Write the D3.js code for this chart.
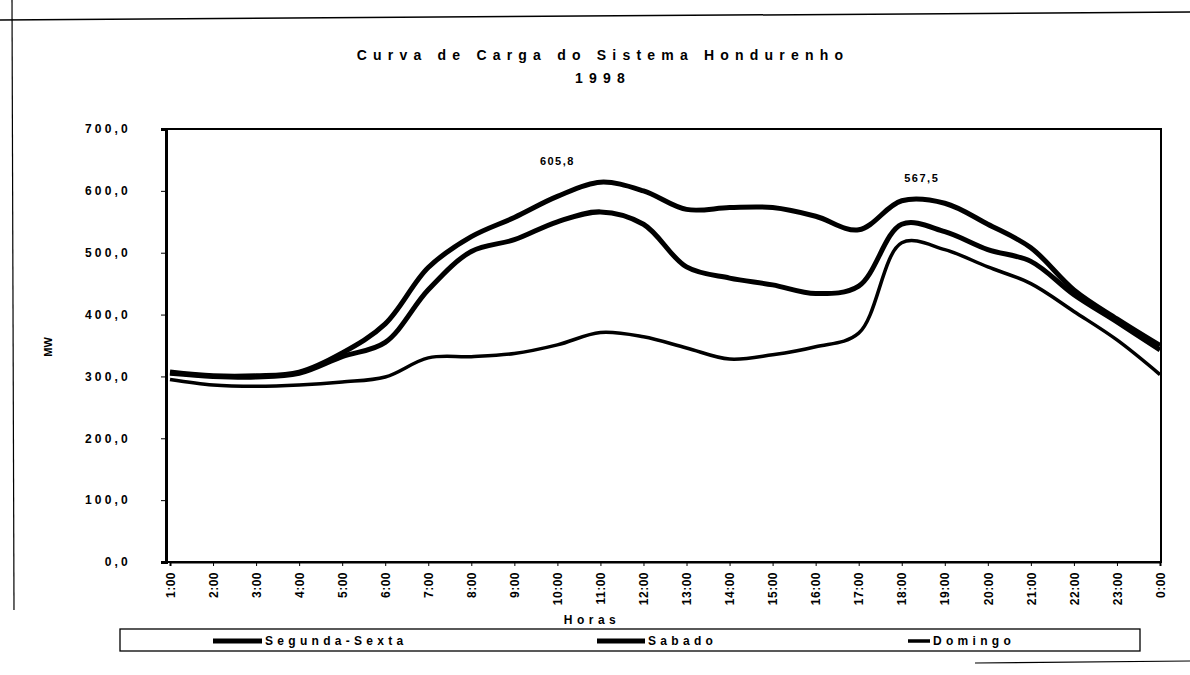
<!DOCTYPE html>
<html>
<head>
<meta charset="utf-8">
<script src="https://cdn.jsdelivr.net/npm/d3@7"></script>
<style>
  body { margin: 0; background: #fff; }
  text { font-family: "Liberation Sans", Arial, sans-serif; fill: #000; }
</style>
</head>
<body>
<div id="canvas"></div>
<script>
"use strict"

/* Data: hourly load (MW) */
let hours = ["1:00", "2:00", "3:00", "4:00", "5:00", "6:00", "7:00", "8:00", "9:00", "10:00",
    "11:00", "12:00", "13:00", "14:00", "15:00", "16:00", "17:00", "18:00", "19:00", "20:00",
    "21:00", "22:00", "23:00", "0:00"];
let segundaSexta = [307, 301, 301, 307, 338, 385, 476, 526, 557, 591,
    614, 600, 570, 573, 573, 559, 537, 584, 580, 546,
    508, 440, 393, 350];
let sabado = [305, 300, 299, 305, 332, 355, 440, 502, 521, 550,
    566, 546, 477, 459, 448, 434, 446, 546, 534, 505,
    486, 432, 388, 343];
let domingo = [295, 286, 284, 286, 291, 299, 330, 332, 337, 351,
    371, 364, 346, 328, 335, 348, 370, 516, 505, 477,
    450, 405, 359, 303];
let yTicks = [0, 100, 200, 300, 400, 500, 600, 700];
let peakLabels = [{ hour: "10:00", text: "605,8" }, { hour: "18:00", text: "567,5" }];

let svgWidth = 1190;
let svgHeight = 675;

let svg = d3.select("#canvas")
    .append("svg")
    .attr("width", svgWidth)
    .attr("height", svgHeight);

svg.append("rect")
    .attr("width", svgWidth)
    .attr("height", svgHeight)
    .attr("fill", "white");

/* scanned page border bits */
svg.append("line")
    .attr("x1", 0).attr("y1", 20).attr("x2", 1190).attr("y2", 12)
    .attr("stroke", "black").attr("stroke-width", 1.5);
svg.append("line")
    .attr("x1", 12).attr("y1", 0).attr("x2", 14).attr("y2", 610)
    .attr("stroke", "black").attr("stroke-width", 1.2);
svg.append("line")
    .attr("x1", 975).attr("y1", 663).attr("x2", 1190).attr("y2", 661)
    .attr("stroke", "black").attr("stroke-width", 1.2);

/* Title */
svg.append("text")
    .attr("x", 603).attr("y", 60)
    .attr("text-anchor", "middle")
    .style("font-size", "14px").style("font-weight", "bold")
    .style("letter-spacing", "6.2px")
    .text("Curva de Carga do Sistema Hondurenho");
svg.append("text")
    .attr("x", 603).attr("y", 83)
    .attr("text-anchor", "middle")
    .style("font-size", "14px").style("font-weight", "bold")
    .style("letter-spacing", "6.2px")
    .text("1998");

/* Scales */
let plotLeft = 166, plotRight = 1161, plotTop = 129, plotBottom = 562;

let xScale = d3.scalePoint()
    .domain(hours)
    .range([170, 1160]);

let yScale = d3.scaleLinear()
    .domain([0, 700])
    .range([plotBottom, plotTop]);

/* plot frame */
svg.append("rect")
    .attr("x", plotLeft).attr("y", plotTop)
    .attr("width", plotRight - plotLeft)
    .attr("height", plotBottom - plotTop)
    .attr("fill", "none")
    .attr("stroke", "black")
    .attr("stroke-width", 2);

/* Y axis */
let yAxis = svg.append("g")
    .attr("transform", "translate(" + plotLeft + ",0)")
    .call(d3.axisLeft(yScale)
        .tickValues(yTicks)
        .tickSize(5)
        .tickFormat(function (d) { return d3.format(".1f")(d).replace(".", ","); }));
yAxis.select(".domain").attr("stroke-width", 3);
yAxis.selectAll("text")
    .attr("x", -35)
    .style("font-size", "12px")
    .style("font-weight", "bold")
    .style("letter-spacing", "3.2px")
    .style("font-family", "Liberation Sans, Arial, sans-serif");

svg.append("text")
    .attr("transform", "translate(52,347) rotate(-90)")
    .attr("text-anchor", "middle")
    .style("font-size", "11px").style("font-weight", "bold")
    .text("MW");

/* X axis */
let xAxis = svg.append("g")
    .attr("transform", "translate(0," + plotBottom + ")")
    .call(d3.axisBottom(xScale).tickSize(4));
xAxis.select(".domain").attr("stroke-width", 2);
xAxis.selectAll("text")
    .attr("transform", "rotate(-90)")
    .attr("x", -10)
    .attr("y", 0)
    .attr("dy", "0.35em")
    .attr("text-anchor", "end")
    .style("font-size", "12px")
    .style("font-weight", "bold")
    .style("letter-spacing", "0.5px")
    .style("font-family", "Liberation Sans, Arial, sans-serif");

svg.append("text")
    .attr("x", 592).attr("y", 624)
    .attr("text-anchor", "middle")
    .style("font-size", "12px").style("font-weight", "bold")
    .style("letter-spacing", "4.5px")
    .text("Horas");

/* Lines */
let series = [
    { name: "Segunda-Sexta", values: segundaSexta, width: 5 },
    { name: "Sabado", values: sabado, width: 5 },
    { name: "Domingo", values: domingo, width: 3.5 }
];

let line = d3.line()
    .x(function (d, i) { return xScale(hours[i]); })
    .y(function (d) { return yScale(d); })
    .curve(d3.curveCatmullRom.alpha(0.5));

svg.selectAll("path.serie")
    .data(series)
    .join("path")
    .attr("class", "serie")
    .attr("d", function (d) { return line(d.values); })
    .attr("fill", "none")
    .attr("stroke", "black")
    .attr("stroke-width", function (d) { return d.width; })
    .attr("stroke-linejoin", "round");

/* peak labels */
svg.selectAll("text.peak")
    .data(peakLabels)
    .join("text")
    .attr("class", "peak")
    .attr("x", function (d, i) { return xScale(d.hour) + (i === 0 ? 0 : 20); })
    .attr("y", function (d, i) { return i === 0 ? 165 : 182; })
    .attr("text-anchor", "middle")
    .style("font-size", "11px").style("font-weight", "bold")
    .style("letter-spacing", "1.5px")
    .text(function (d) { return d.text; });

/* Legend */
svg.append("rect")
    .attr("x", 120).attr("y", 629)
    .attr("width", 1020).attr("height", 22)
    .attr("fill", "none")
    .attr("stroke", "black")
    .attr("stroke-width", 1.3);

let legendPos = [
    { x1: 213, x2: 262 },
    { x1: 597, x2: 645 },
    { x1: 908, x2: 930 }
];

series.forEach(function (s, i) {
    svg.append("line")
        .attr("x1", legendPos[i].x1).attr("x2", legendPos[i].x2)
        .attr("y1", 641).attr("y2", 641)
        .attr("stroke", "black")
        .attr("stroke-width", s.width);
    svg.append("text")
        .attr("x", legendPos[i].x2 + 3).attr("y", 645)
        .style("font-size", "12px").style("font-weight", "bold")
        .style("letter-spacing", "4.3px")
        .text(s.name);
});
</script>
</body>
</html>
